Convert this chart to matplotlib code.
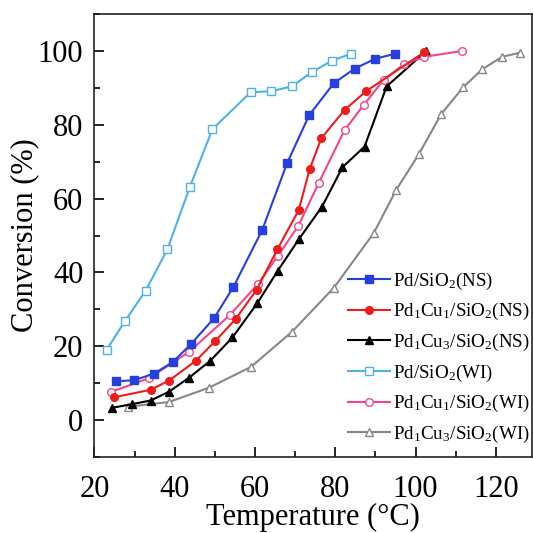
import matplotlib
matplotlib.use('Agg')
import matplotlib.pyplot as plt
from matplotlib.ticker import MultipleLocator

# data
t_pd_ns = [25.3, 29.9, 34.9, 39.5, 44.0, 49.8, 54.6, 61.8, 68.0, 73.5, 79.6, 84.8, 90.0, 94.8]
c_pd_ns = [10.5, 10.8, 12.6, 15.7, 20.5, 27.6, 36.0, 51.5, 69.6, 82.6, 91.2, 95.2, 97.9, 99.2]

t_pdcu1_ns = [25.0, 34.0, 38.6, 45.3, 50.1, 55.2, 60.4, 65.6, 70.9, 73.6, 76.5, 82.3, 87.7, 102.2]
c_pdcu1_ns = [6.2, 8.2, 10.7, 16.1, 21.4, 27.4, 35.3, 46.3, 56.9, 67.9, 76.3, 84.0, 89.1, 99.7]

t_pdcu3_ns = [24.3, 29.3, 34.0, 38.6, 43.6, 48.9, 54.4, 60.6, 65.7, 71.0, 76.7, 81.8, 87.3, 92.8, 102.7]
c_pdcu3_ns = [3.3, 4.3, 5.3, 7.7, 11.5, 16.1, 22.4, 31.7, 40.5, 49.1, 57.8, 68.5, 74.1, 90.4, 100.0]

t_pd_wi = [23.1, 27.6, 32.8, 38.2, 43.8, 49.4, 58.9, 64.1, 69.2, 74.1, 79.2, 83.9]
c_pd_wi = [19.1, 26.8, 35.1, 46.3, 63.2, 78.8, 88.8, 89.1, 90.4, 94.2, 97.4, 99.2]

t_pdcu1_wi = [24.1, 33.7, 43.6, 53.7, 60.8, 65.7, 70.8, 75.9, 82.3, 87.1, 92.1, 97.1, 102.2, 111.6]
c_pdcu1_wi = [7.6, 11.4, 18.5, 28.4, 36.9, 44.5, 52.6, 64.3, 78.5, 85.4, 92.2, 96.4, 98.4, 100.0]

t_pdcu3_wi = [28.4, 38.6, 48.6, 59.0, 69.2, 79.7, 89.6, 95.2, 100.8, 106.4, 111.8, 116.6, 121.5, 125.9]
c_pdcu3_wi = [3.6, 4.9, 8.8, 14.4, 23.9, 35.9, 50.7, 62.4, 72.0, 82.9, 90.1, 95.0, 98.4, 99.5]

# 字体设置
plt.rcParams['font.family'] = 'Liberation Serif'
plt.rcParams['mathtext.fontset'] = 'stix'

fig = plt.figure(figsize=(5.33, 5.33), dpi=100)
ax = fig.add_axes([0.1771, 0.1426, 0.8210, 0.8311])

lw = 1.5
ms = 5.5
ax.plot(t_pdcu3_wi, c_pdcu3_wi, color='#878787', lw=lw, marker='^', ms=ms + 0.5,
        mfc='white', mec='#878787', label=r'Pd$\mathregular{_1}$Cu$\mathregular{_3}$/SiO$\mathregular{_2}$(WI)')
ax.plot(t_pd_wi, c_pd_wi, color='#4fb3e6', lw=lw, marker='s', ms=ms,
        mfc='white', mec='#4fb3e6', label=r'Pd/SiO$\mathregular{_2}$(WI)')
ax.plot(t_pdcu3_ns, c_pdcu3_ns, color='black', lw=lw, marker='^', ms=ms + 0.5,
        label=r'Pd$\mathregular{_1}$Cu$\mathregular{_3}$/SiO$\mathregular{_2}$(NS)')
ax.plot(t_pdcu1_wi, c_pdcu1_wi, color='#f0468f', lw=lw, marker='o', ms=ms,
        mfc='white', mec='#f0468f', label=r'Pd$\mathregular{_1}$Cu$\mathregular{_1}$/SiO$\mathregular{_2}$(WI)')
ax.plot(t_pdcu1_ns, c_pdcu1_ns, color='#ee1c1c', lw=lw, marker='o', ms=ms,
        label=r'Pd$\mathregular{_1}$Cu$\mathregular{_1}$/SiO$\mathregular{_2}$(NS)')
ax.plot(t_pd_ns, c_pd_ns, color='#2640e0', lw=lw, marker='s', ms=ms,
        label=r'Pd/SiO$\mathregular{_2}$(NS)')

ax.set_xlim(20, 129)
ax.set_ylim(-10, 110)
ax.xaxis.set_major_locator(MultipleLocator(20))
ax.xaxis.set_minor_locator(MultipleLocator(10))
ax.yaxis.set_major_locator(MultipleLocator(20))
ax.yaxis.set_minor_locator(MultipleLocator(10))
ax.tick_params(which='both', direction='in', labelsize=22, width=1.2)
ax.tick_params(axis='x', which='major', pad=13)
ax.tick_params(axis='y', which='major', pad=8)
ax.tick_params(which='major', length=7)
ax.tick_params(which='minor', length=4)
for s in ax.spines.values():
    s.set_linewidth(1.2)
    s.set_color('#222222')

ax.set_xlabel('Temperature (°C)', fontsize=22, labelpad=-1)
ax.set_ylabel('Conversion (%)', fontsize=22, labelpad=-1)

# 图例顺序与原图一致
h, l = ax.get_legend_handles_labels()
order = [5, 4, 2, 1, 3, 0]
ax.legend([h[i] for i in order], [l[i] for i in order], loc='upper left',
          bbox_to_anchor=(83.1, 40.5), bbox_transform=ax.transData,
          frameon=False, fontsize=13.7, handlelength=2.2, handletextpad=0.2,
          labelspacing=0.5, borderpad=0, borderaxespad=0)

plt.savefig('out.png', dpi=100)
